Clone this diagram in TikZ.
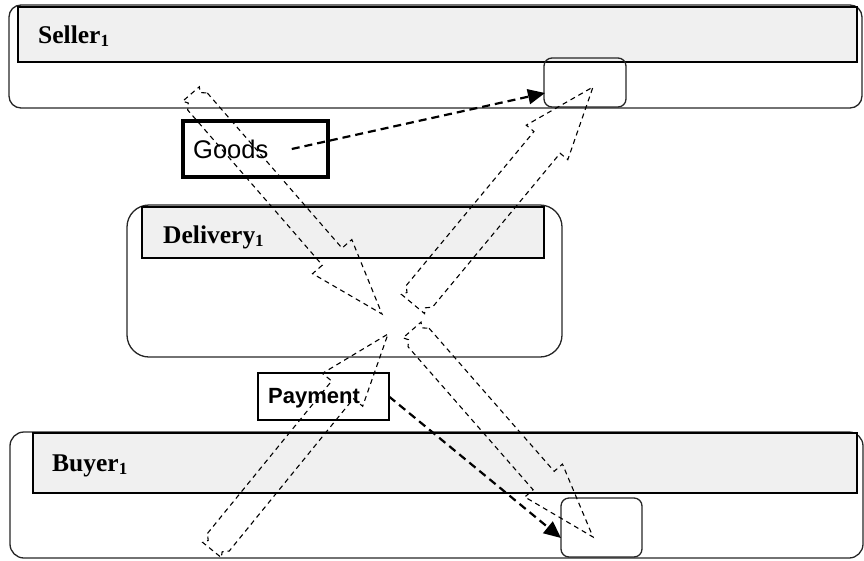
\documentclass[tikz,border=0pt]{standalone}
\usepackage{fontspec}
\setmainfont{Liberation Serif}
\newfontfamily\lsans{Liberation Sans}
\usetikzlibrary{calc,arrows.meta}
\tikzset{
  cont/.style={draw=black!85, line width=1.3pt, inner sep=0pt, outer sep=0pt},
  hdr/.style={draw=black, fill=black!6, line width=1.5pt, inner sep=0pt, outer sep=0pt},
  lab/.style={anchor=base west, inner sep=0pt, font=\bfseries\fontsize{25.5}{29}\selectfont},
  sbox/.style={draw=black!85, line width=1.3pt, rounded corners=8pt, inner sep=0pt, outer sep=0pt},
  band/.style={draw=black, line width=1.1pt, dash pattern=on 5pt off 4pt, line join=miter},
  flow/.style={draw=black, line width=2.2pt, dash pattern=on 8pt off 5pt, -{Triangle[length=17pt,width=15pt]}},
}
\newcommand\subone{\raisebox{-3.5pt}{\fontsize{17}{17}\selectfont 1}}
\newcommand\flexarr[5]{%
  \pgfmathsetmacro\fa{#3-5}\pgfmathsetmacro\fb{#3-2}%
  \coordinate (fE) at ($(#2)!#5pt!(#1)$);
  \coordinate (fS) at ($(#1)!10pt!(#2)$);
  \coordinate (fM) at ($(#1)!5pt!(#2)$);
  \draw[band] ($(fS)!#3pt!90:(#2)$) -- ($(fE)!#3pt!90:(#2)$) -- ($(fE)!#4pt!90:(#2)$) -- (#2)
    -- ($(fE)!#4pt!-90:(#2)$) -- ($(fE)!#3pt!-90:(#2)$) -- ($(fS)!#3pt!-90:(#2)$)
    -- ($(fM)!\fa pt!-90:(#2)$) -- ($(#1)!\fb pt!-90:(#2)$) -- ($(#1)!\fb pt!90:(#2)$)
    -- ($(fM)!\fa pt!90:(#2)$) -- cycle;
}
\begin{document}
\begin{tikzpicture}[x=1pt,y=-1pt]
\useasboundingbox (0,0) rectangle (864,560);
% containers
\node[cont, rounded corners=12pt, minimum width=853pt, minimum height=103pt] (seller) at (435.5,56.5) {};
\node[hdr, minimum width=839pt, minimum height=55pt] (sellerh) at (437.5,34.5) {};
\node[lab] (sellerl) at (38,43) {Seller\subone};
\node[cont, rounded corners=22pt, minimum width=435pt, minimum height=152pt] (deliv) at (344.5,281) {};
\node[hdr, minimum width=402pt, minimum height=51pt] (delivh) at (343,232.5) {};
\node[lab] (delivl) at (163,243) {Delivery\subone};
\node[cont, rounded corners=14pt, minimum width=853pt, minimum height=126pt] (buyer) at (436.5,495) {};
\node[hdr, minimum width=824pt, minimum height=60pt] (buyerh) at (445,463) {};
\node[lab] (buyerl) at (52,471) {Buyer\subone};
% small boxes
\node[sbox, minimum width=82pt, minimum height=49pt] (sb1) at (585,82.5) {};
\node[sbox, minimum width=81pt, minimum height=59pt] (sb2) at (601.5,527.5) {};
% goods & payment
\node[draw=black, fill=white, line width=4pt, minimum width=145pt, minimum height=56pt, inner sep=0pt, outer sep=0pt] (goods) at (255.5,149) {};
\node[anchor=base west, inner sep=0pt, font=\lsans\fontsize{25.5}{28}\selectfont] (goodst) at (193,158) {Goods};
\node[draw=black, fill=white, line width=1.3pt, minimum width=131pt, minimum height=47pt, inner sep=0pt, outer sep=0pt] (pay) at (323.5,396.5) {};
\node[anchor=base west, inner sep=0pt, font=\lsans\bfseries\fontsize{22}{26}\selectfont] (payt) at (268,403) {Payment};
% block arrows
\coordinate (a1t) at (191,94);  \coordinate (a1h) at (382,314);
\coordinate (a2t) at (413,304); \coordinate (a2h) at (593,87);
\coordinate (a3t) at (412,330); \coordinate (a3h) at (593,537);
\coordinate (a4t) at (212,550); \coordinate (a4h) at (388,334);
\flexarr{a1t}{a1h}{13}{26}{76}
\flexarr{a2t}{a2h}{17}{27}{72}
\flexarr{a3t}{a3h}{14}{25}{75}
\flexarr{a4t}{a4h}{14}{26}{72}
% flows
\coordinate (gs) at ($(goods.center)!0.5!(goods.east)$);
\coordinate (gin) at (545,93);
\coordinate (pin) at (561,538);
\draw[flow] (gs) -- (gin);
\draw[flow] (pay.east) -- (pin);
\end{tikzpicture}
\end{document}
